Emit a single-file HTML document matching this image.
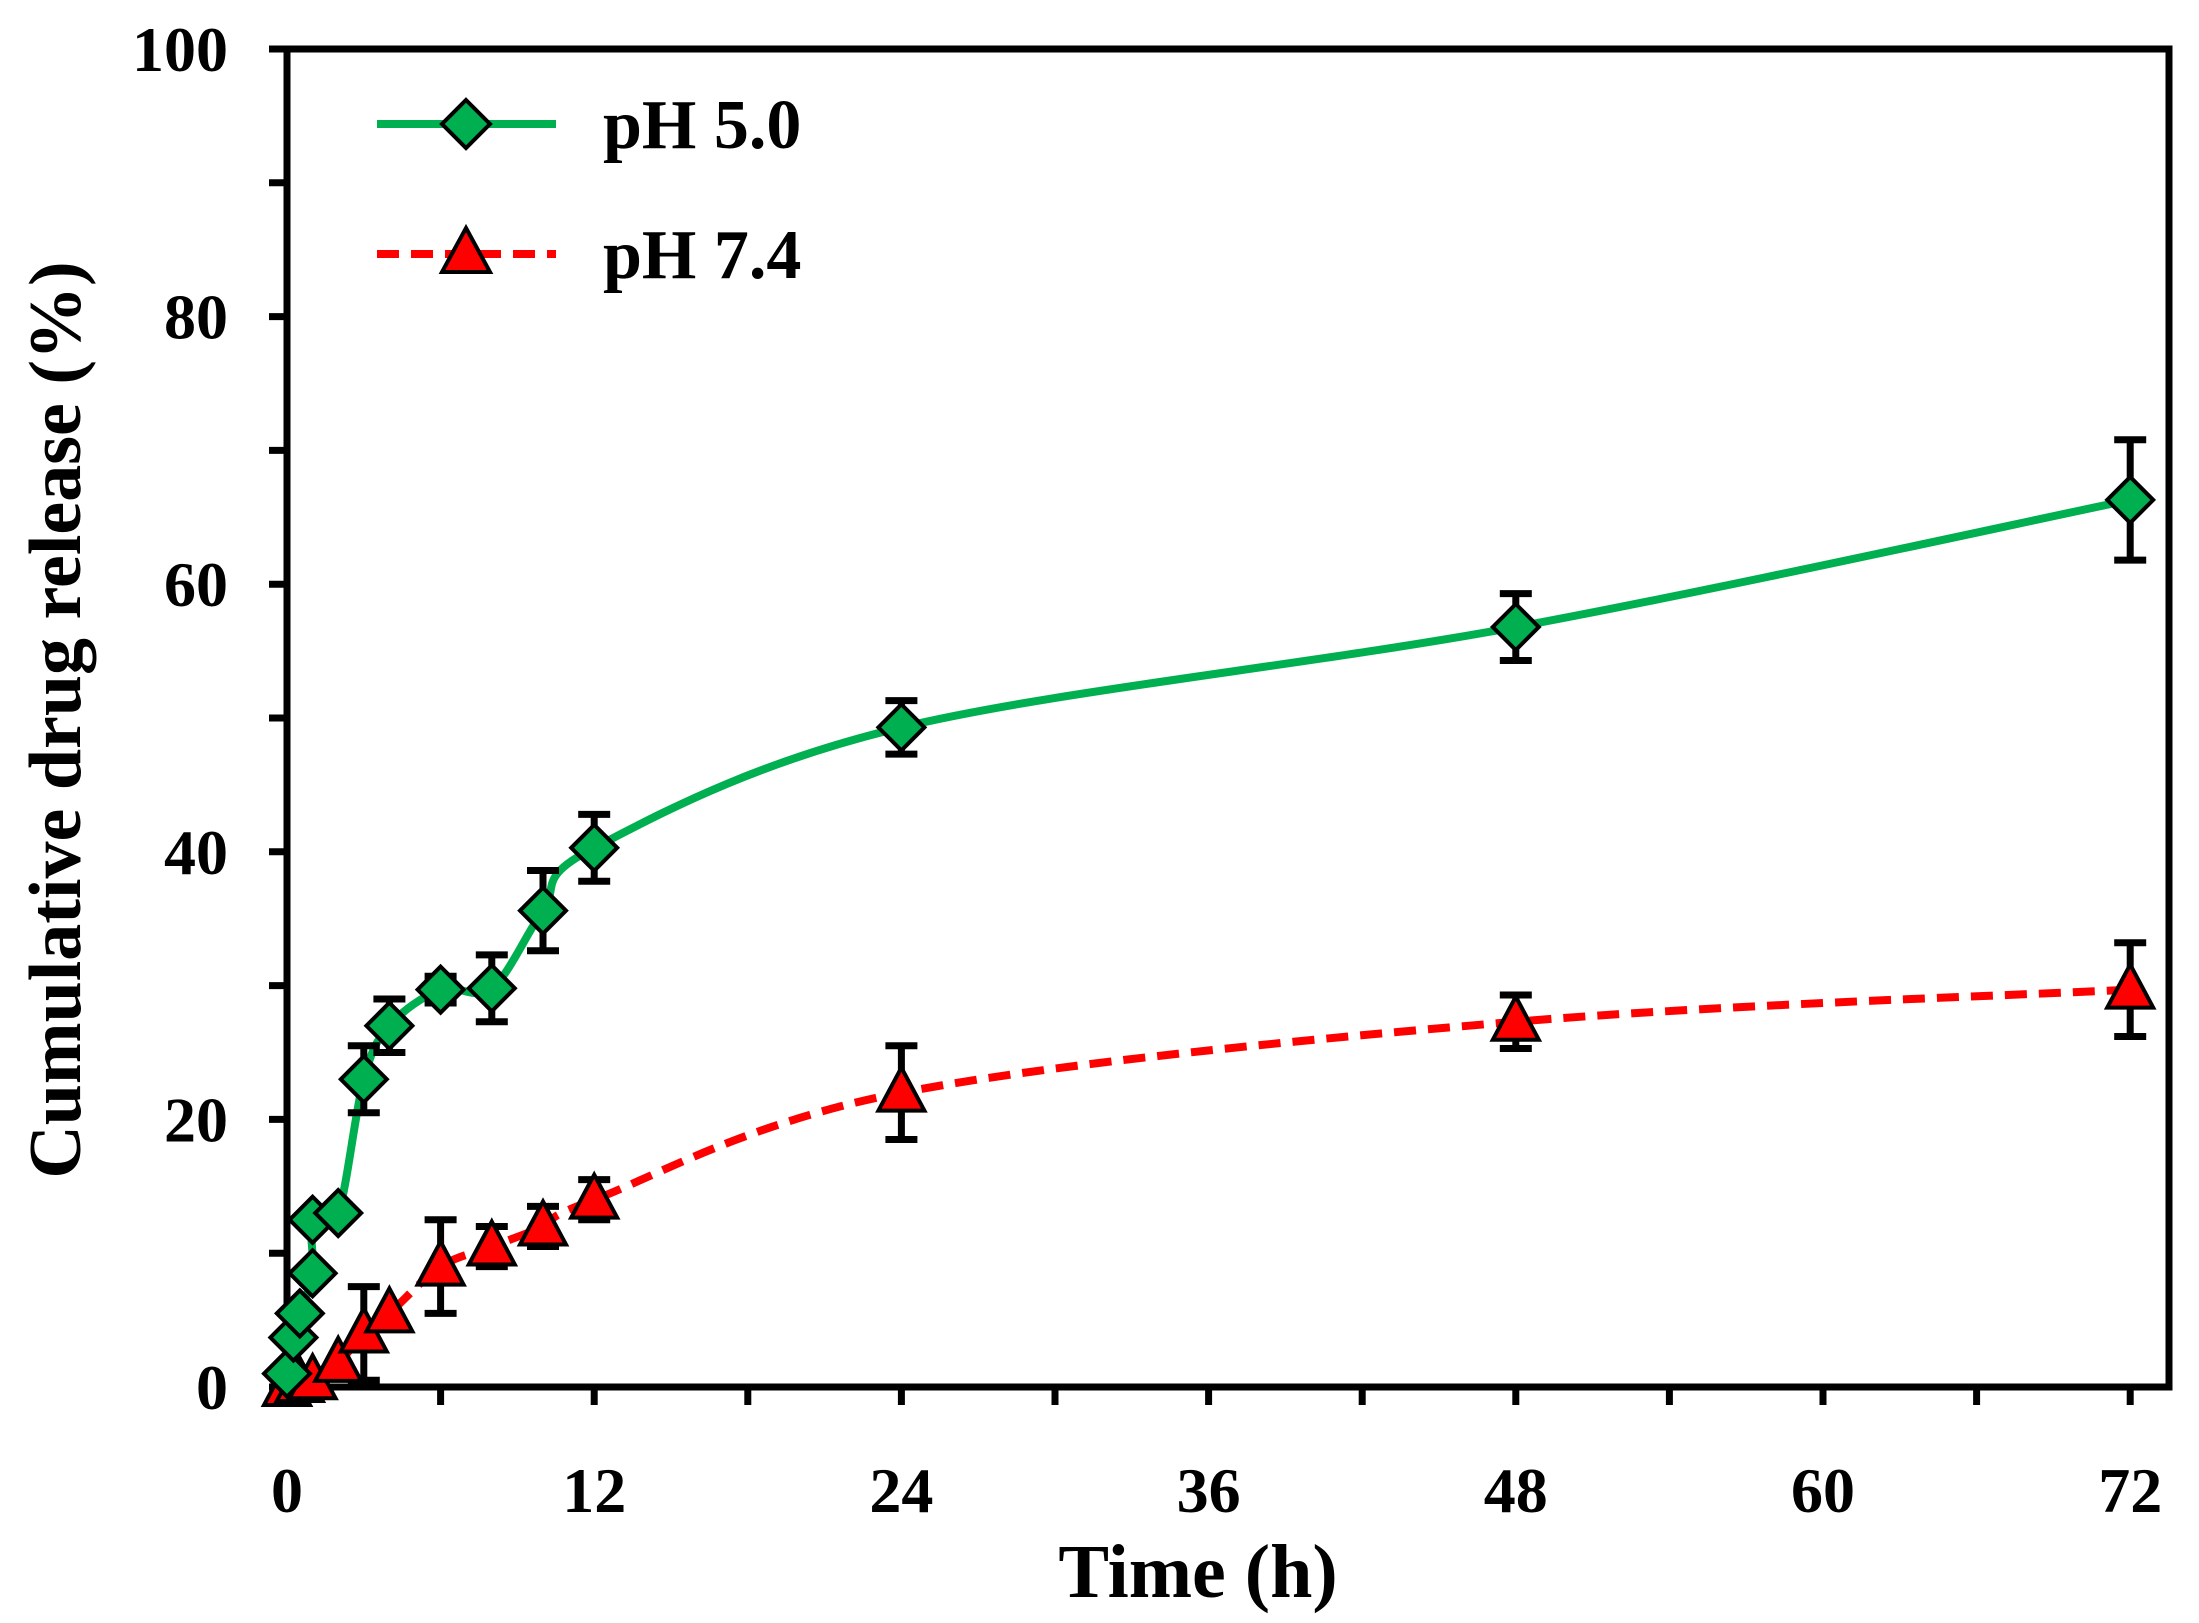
<!DOCTYPE html>
<html><head><meta charset="utf-8"><style>
html,body{margin:0;padding:0;background:#fff;}
svg{display:block;}
text{font-family:"Liberation Serif",serif;font-weight:bold;fill:#000;}
</style></head><body>
<svg id="s" width="2199" height="1623" viewBox="0 0 2199 1623" xmlns="http://www.w3.org/2000/svg">
<g id="g"></g>
<text x="1198" y="1597" font-size="76" text-anchor="middle">Time (h)</text>
<text transform="translate(80,720) rotate(-90)" font-size="74" text-anchor="middle">Cumulative drug release (%)</text>
<line x1="377" y1="124" x2="556" y2="124" stroke="#00b050" stroke-width="8"/>
<polygon points="466,100 490,124 466,148 442,124" fill="#00b050" stroke="#000" stroke-width="4"/>
<text x="603" y="148" font-size="70">pH 5.0</text>
<line x1="377" y1="254" x2="556" y2="254" stroke="#ff0000" stroke-width="8" stroke-dasharray="22 12"/>
<polygon points="466,228 490,272 442,272" fill="#ff0000" stroke="#000" stroke-width="4"/>
<text x="603" y="278" font-size="70">pH 7.4</text>
</svg>
<script>
var NS="http://www.w3.org/2000/svg",g=document.getElementById('g');
var X0=287,XS=25.6,Y0=1387,YS=13.38;
function X(t){return X0+t*XS}function Y(v){return Y0-v*YS}
function el(n,a){var e=document.createElementNS(NS,n);for(var k in a)e.setAttribute(k,a[k]);g.appendChild(e);return e}
function tx(x,y,s,anc){var e=el('text',{x:x,y:y,'font-size':64,'text-anchor':anc});e.textContent=s;}
for(var t=0;t<=72;t+=6){el('line',{x1:X(t),y1:Y0,x2:X(t),y2:Y0+18,stroke:'#000','stroke-width':7});if(t%12==0)tx(X(t),1512,t,'middle');}
for(var v=0;v<=100;v+=10){el('line',{x1:X0-18,y1:Y(v),x2:X0,y2:Y(v),stroke:'#000','stroke-width':7});if(v%20==0)tx(228,Y(v)+22,v,'end');}
el('rect',{x:X0,y:49,width:2169-X0,height:Y0-49,fill:'none',stroke:'#000','stroke-width':7});
function path(p){var d='M'+X(p[0][0])+','+Y(p[0][1]);for(var i=0;i<p.length-1;i++){var a=p[Math.max(i-1,0)],b=p[i],c=p[i+1],e=p[Math.min(i+2,p.length-1)];
var bx=X(b[0]),by=Y(b[1]),cx=X(c[0]),cy=Y(c[1]);
var c1x=bx+(cx-X(a[0]))/6,c1y=by+(cy-Y(a[1]))/6,c2x=cx-(X(e[0])-bx)/6,c2y=cy-(Y(e[1])-by)/6;
d+=' C'+c1x+','+c1y+' '+c2x+','+c2y+' '+cx+','+cy;}return d}
var A=[[0,1,0],[0.25,3.7,0],[0.5,5.5,0],[1,8.5,0],[1,12.5,0],[2,13,0],[3,23,2.5],[4,27,2],[6,29.7,1],[8,29.8,2.5],[10,35.6,3],[12,40.3,2.5],[24,49.3,2],[48,56.8,2.5],[72,66.3,4.5]];
var B=[[0,0,0],[0.5,0.3,0],[1,0.5,0.8],[2,1.8,0],[3,4,3.5],[4,5.5,0],[6,9,3.5],[8,10.5,1.5],[10,12,1.5],[12,14,1.5],[24,22,3.5],[48,27.3,2],[72,29.7,3.5]];
el('path',{d:path(A),fill:'none',stroke:'#00b050','stroke-width':8});
el('path',{d:path(B),fill:'none',stroke:'#ff0000','stroke-width':8,'stroke-dasharray':'22 12'});
function eb(p){if(!p[2])return;var x=X(p[0]),y1=Y(p[1]+p[2]),y2=Y(p[1]-p[2]);
el('line',{x1:x,y1:y1,x2:x,y2:y2,stroke:'#000','stroke-width':7});
el('line',{x1:x-16,y1:y1,x2:x+16,y2:y1,stroke:'#000','stroke-width':7});
el('line',{x1:x-16,y1:y2,x2:x+16,y2:y2,stroke:'#000','stroke-width':7});}
A.forEach(eb);B.forEach(eb);
B.forEach(function(p){var x=X(p[0]),y=Y(p[1]);el('polygon',{points:x+','+(y-25)+' '+(x+23)+','+(y+18)+' '+(x-23)+','+(y+18),fill:'#ff0000',stroke:'#000','stroke-width':4});});
A.forEach(function(p){var x=X(p[0]),y=Y(p[1]);el('polygon',{points:x+','+(y-23)+' '+(x+23)+','+y+' '+x+','+(y+23)+' '+(x-23)+','+y,fill:'#00b050',stroke:'#000','stroke-width':4});});
</script>
</body></html>
